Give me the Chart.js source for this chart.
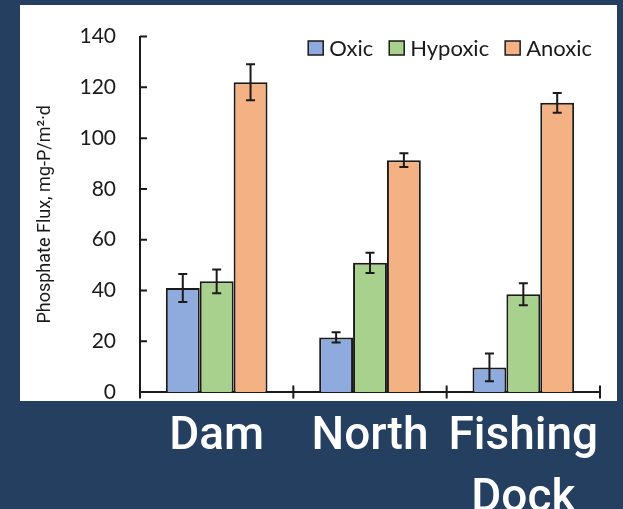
<!DOCTYPE html>
<html>
<head>
<meta charset="utf-8">
<script src="https://cdn.jsdelivr.net/npm/chart.js@4.4.0/dist/chart.umd.min.js"></script>
<style>
  html, body { margin: 0; padding: 0; background: #253f61; }
</style>
</head>
<body>
<canvas id="chart" width="623" height="509"></canvas>
<script>
const sites = ['Dam', 'North', ['Fishing', 'Dock']];
const seriesNames = ['Oxic', 'Hypoxic', 'Anoxic'];
const oxic = [41.0, 21.5, 9.7];
const hypoxic = [43.6, 50.9, 38.5];
const anoxic = [122.0, 91.3, 113.9];
const oxicErr = [5.5, 2.0, 5.5];
const hypoxicErr = [4.7, 4.0, 4.3];
const anoxicErr = [7.1, 2.7, 3.9];
const yTicks = [0, 20, 40, 60, 80, 100, 120, 140];

const colors = ['#8faadc', '#a9d18e', '#f4b183'];
const ink = '#1a1a1a';

// navy slide background + white chart panel
const panel = {
  id: 'panel',
  beforeDraw(chart) {
    const ctx = chart.ctx;
    ctx.save();
    ctx.fillStyle = '#253f61';
    ctx.fillRect(0, 0, chart.width, chart.height);
    ctx.fillStyle = '#ffffff';
    ctx.fillRect(20, 5, 597, 396);
    ctx.restore();
  }
};

// error bars from dataset.errors
const errorBars = {
  id: 'errorBars',
  afterDatasetsDraw(chart) {
    const ctx = chart.ctx;
    const y = chart.scales.y;
    ctx.save();
    ctx.strokeStyle = ink;
    ctx.lineWidth = 2;
    chart.data.datasets.forEach((ds, i) => {
      chart.getDatasetMeta(i).data.forEach((bar, j) => {
        const v = ds.data[j], e = ds.errors[j];
        const top = y.getPixelForValue(v + e);
        const bot = y.getPixelForValue(v - e);
        ctx.beginPath();
        ctx.moveTo(bar.x, top); ctx.lineTo(bar.x, bot);
        ctx.moveTo(bar.x - 4.5, top); ctx.lineTo(bar.x + 4.5, top);
        ctx.moveTo(bar.x - 4.5, bot); ctx.lineTo(bar.x + 4.5, bot);
        ctx.stroke();
      });
    });
    ctx.restore();
  }
};

// inside ticks on y, crossing ticks on x, and the legend inside the plot
const axisMarks = {
  id: 'axisMarks',
  afterDraw(chart) {
    const ctx = chart.ctx;
    const { x, y } = chart.scales;
    const area = chart.chartArea;
    ctx.save();
    ctx.strokeStyle = ink;
    ctx.lineWidth = 2;
    ctx.beginPath();
    y.ticks.forEach(t => {
      const py = y.getPixelForValue(t.value);
      ctx.moveTo(area.left, py);
      ctx.lineTo(area.left + 7, py);
    });
    for (let i = 0; i <= sites.length; i++) {
      const px = x.getPixelForValue(i - 0.5);
      ctx.moveTo(px, i === 0 ? area.bottom : area.bottom - 6.5);
      ctx.lineTo(px, area.bottom + 6.5);
    }
    ctx.stroke();

    // legend
    ctx.font = '22px Lato';
    ctx.textBaseline = 'middle';
    const widths = chart.data.datasets.map(ds => ctx.measureText(ds.label).width);
    const total = widths.reduce((a, w) => a + 15 + 6 + w, 0) + 16 * (widths.length - 1);
    let lx = area.right - 8 - total;
    const ly = 48;
    chart.data.datasets.forEach((ds, i) => {
      ctx.fillStyle = ds.backgroundColor;
      ctx.fillRect(lx, ly - 7, 15, 14);
      ctx.lineWidth = 1.5;
      ctx.strokeRect(lx, ly - 7, 15, 14);
      lx += 21;
      ctx.fillStyle = ink;
      ctx.fillText(ds.label, lx, ly + 1);
      lx += widths[i] + 16;
    });
    ctx.restore();
  }
};

const values = [oxic, hypoxic, anoxic];
const errs = [oxicErr, hypoxicErr, anoxicErr];

new Chart(document.getElementById('chart'), {
  type: 'bar',
  data: {
    labels: sites,
    datasets: seriesNames.map((name, i) => ({
      label: name,
      data: values[i],
      errors: errs[i],
      backgroundColor: colors[i],
      borderColor: ink,
      borderWidth: 2,
      barPercentage: 1.0,
      categoryPercentage: 0.663
    }))
  },
  options: {
    responsive: false,
    animation: false,
    layout: { padding: { left: 20, right: 23, top: 24, bottom: 0 } },
    plugins: {
      legend: { display: false },
      tooltip: { enabled: false }
    },
    scales: {
      x: {
        grid: { display: false, drawTicks: false },
        border: { display: true, color: ink, width: 2 },
        ticks: {
          color: '#ffffff',
          font: { family: 'Roboto', size: 46, weight: '500', lineHeight: 1.35 },
          padding: 14,
          maxRotation: 0,
          autoSkip: false
        },
        afterFit: s => { s.height = 117; }
      },
      y: {
        min: 0,
        max: 140,
        afterBuildTicks: s => { s.ticks = yTicks.map(v => ({ value: v })); },
        grid: { display: false, drawTicks: false },
        border: { display: true, color: ink, width: 2 },
        ticks: {
          color: ink,
          font: { family: 'Lato', size: 21 },
          padding: 24
        },
        title: {
          display: true,
          text: 'Phosphate Flux, mg-P/m²·d',
          color: ink,
          font: { family: 'Roboto', size: 18 },
          padding: { top: 15, bottom: 0 }
        },
        afterFit: s => { s.width = 120; }
      }
    }
  },
  plugins: [panel, errorBars, axisMarks]
});
</script>
</body>
</html>
